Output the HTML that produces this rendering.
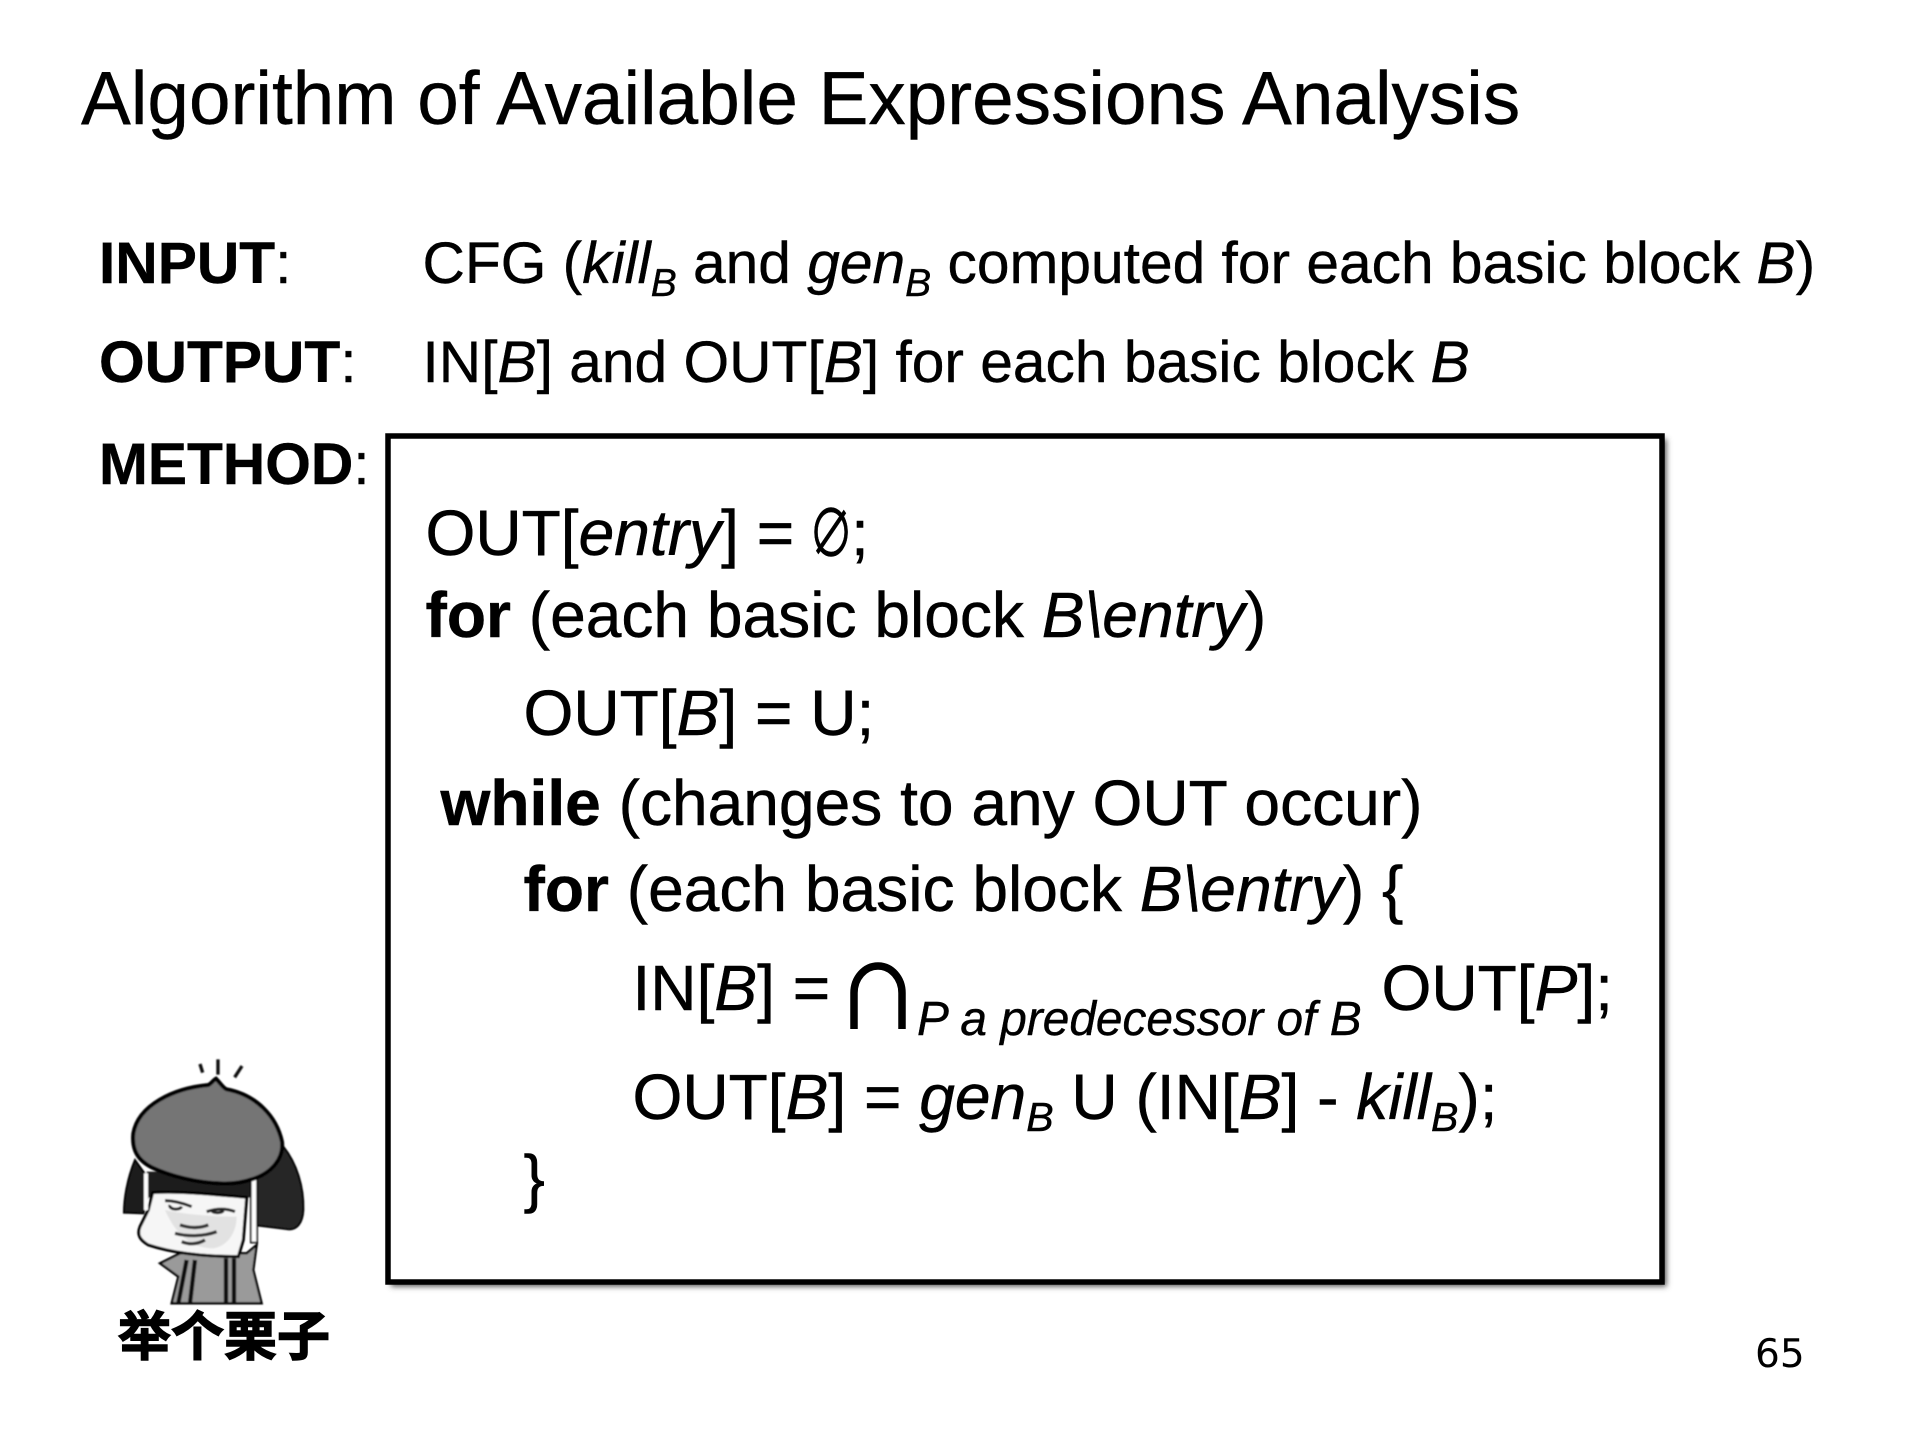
<!DOCTYPE html>
<html lang="en">
<head>
<meta charset="utf-8">
<title>Algorithm of Available Expressions Analysis</title>
<style>
html,body{margin:0;padding:0;background:#fff;width:1920px;height:1440px;overflow:hidden}
svg{display:block}
text{font-family:"Liberation Sans","Noto Sans CJK SC",sans-serif;fill:#000;white-space:pre}
.b{font-weight:bold}
.i{font-style:italic}
.body{font-size:58.7px;stroke:#000;stroke-width:.4px}
.code{font-size:64.1px;stroke:#000;stroke-width:.5px}
.sb{font-size:39px;font-style:italic}
.sc{font-size:41px;font-style:italic}
</style>
</head>
<body>
<svg xmlns="http://www.w3.org/2000/svg" width="1920" height="1440" viewBox="0 0 1920 1440">
<defs>
<filter id="shadow" x="-5%" y="-5%" width="110%" height="110%"><feGaussianBlur stdDeviation="3"/></filter>
<filter id="soft" x="-5%" y="-5%" width="110%" height="110%"><feGaussianBlur stdDeviation="2.2"/></filter>
</defs>
<rect width="1920" height="1440" fill="#fff"/>

<text x="81" y="124" font-size="74.7" stroke="#000" stroke-width=".4">Algorithm of Available Expressions Analysis</text>

<text class="body" x="99" y="283"><tspan class="b">INPUT</tspan>:</text>
<text class="body" x="422.5" y="283">CFG (<tspan class="i">kill</tspan><tspan class="sb" dy="13">B</tspan><tspan dy="-13"> and </tspan><tspan class="i">gen</tspan><tspan class="sb" dy="13">B</tspan><tspan dy="-13"> computed for each basic block </tspan><tspan class="i">B</tspan>)</text>

<text class="body" x="99" y="382"><tspan class="b">OUTPUT</tspan>:</text>
<text class="body" x="422.5" y="382">IN[<tspan class="i">B</tspan>] and OUT[<tspan class="i">B</tspan>] for each basic block <tspan class="i">B</tspan></text>

<text class="body" x="99" y="484"><tspan class="b">METHOD</tspan>:</text>

<rect x="391" y="439" width="1275.5" height="847.5" fill="#555" filter="url(#shadow)"/>
<rect x="388" y="436" width="1274" height="846" fill="#fff" stroke="#000" stroke-width="5.5"/>

<text class="code" x="425.5" y="555">OUT[<tspan class="i">entry</tspan>] =</text>
<text class="code" transform="translate(831 557) scale(.7 1.03)" text-anchor="middle" stroke-width="1.2">∅</text>
<text class="code" x="851" y="555">;</text>
<text class="code" x="425.5" y="637"><tspan class="b">for</tspan> (each basic block <tspan class="i">B\entry</tspan>)</text>
<text class="code" x="523.5" y="735">OUT[<tspan class="i">B</tspan>] = U;</text>
<text class="code" x="440.5" y="825">  <tspan class="b" dx="-35.6">while</tspan> (changes to any OUT occur)</text>
<text class="code" x="523.5" y="911"><tspan class="b">for</tspan> (each basic block <tspan class="i">B\entry</tspan>) {</text>
<text class="code" x="632.5" y="1010">IN[<tspan class="i">B</tspan>] =</text>
<path d="M854 1029V993a24 27 0 0 1 48 0V1029" fill="none" stroke="#000" stroke-width="7.5"/>
<text x="917" y="1035" font-size="47.8" class="i" stroke="#000" stroke-width=".4">P a predecessor of B</text>
<text class="code" x="1381.5" y="1010">OUT[<tspan class="i">P</tspan>];</text>
<text class="code" x="632.5" y="1119">OUT[<tspan class="i">B</tspan>] = <tspan class="i">gen</tspan><tspan class="sc" dy="12">B</tspan><tspan dy="-12"> U (IN[</tspan><tspan class="i">B</tspan>] - <tspan class="i">kill</tspan><tspan class="sc" dy="12">B</tspan><tspan dy="-12">);</tspan></text>
<text class="code" x="523.5" y="1200">}</text>

<g>
<g transform="translate(80 1040) scale(0.3333)" filter="url(#soft)">
<path d="M360 72l8 26M414 58v46M486 78l-22 34" stroke="#111" stroke-width="10" fill="none"/>
<path d="M165 360C140 420 132 480 132 518L190 520L215 430Z" fill="#1d1d1d" stroke="#000" stroke-width="6"/>
<path d="M610 320C650 370 672 440 670 510C668 550 650 570 625 568L530 556L520 410Z" fill="#262626" stroke="#000" stroke-width="6"/>
<path d="M200 395H520V472H200Z" fill="#1a1a1a"/>
<path d="M240 670L300 640H500L530 615L520 690L545 790H275L295 710Z" fill="#9a9a9a" stroke="#000" stroke-width="7"/>
<path d="M295 790L320 660M330 790L345 660M438 790V655M462 790V655" stroke="#111" stroke-width="13" fill="none"/>
<path d="M218 458C300 452 420 465 500 472L490 600L475 650C380 650 280 640 205 615C180 600 170 585 180 560L205 510Z" fill="#f6f6f6" stroke="#000" stroke-width="9"/>
<path d="M255 510C300 520 380 530 470 530C470 580 440 620 400 625C340 625 290 590 255 510Z" fill="#e2e2e2"/>
<path d="M255 482C280 482 310 490 335 500M380 515C410 505 440 505 465 515M270 495a18 10 0 0 0 35 5M395 512a18 8 0 0 0 35 0" stroke="#222" stroke-width="9" fill="none"/>
<path d="M300 555C330 565 360 565 385 555M285 580C320 590 370 590 410 575M305 605C330 615 355 612 375 600" stroke="#333" stroke-width="10" fill="none"/>
<path d="M198 400V510" stroke="#fff" stroke-width="12"/>
<path d="M522 410V610" stroke="#000" stroke-width="24"/>
<path d="M522 420V605" stroke="#fff" stroke-width="14"/>
<path d="M408 116C420 128 430 145 440 148C530 165 590 230 606 305C612 355 575 400 515 418C480 430 450 432 420 430C350 428 270 408 215 382C172 360 155 328 160 280C175 195 280 145 385 135C395 130 400 120 408 116Z" fill="#757575" stroke="#000" stroke-width="12"/>
</g>
<text x="118" y="1355" font-size="53" font-weight="700" stroke="#000" stroke-width="1.4">举个栗子</text>
</g>

<text x="1755" y="1367" font-size="39" style="font-family:'DejaVu Sans',sans-serif">65</text>
</svg>
</body>
</html>
